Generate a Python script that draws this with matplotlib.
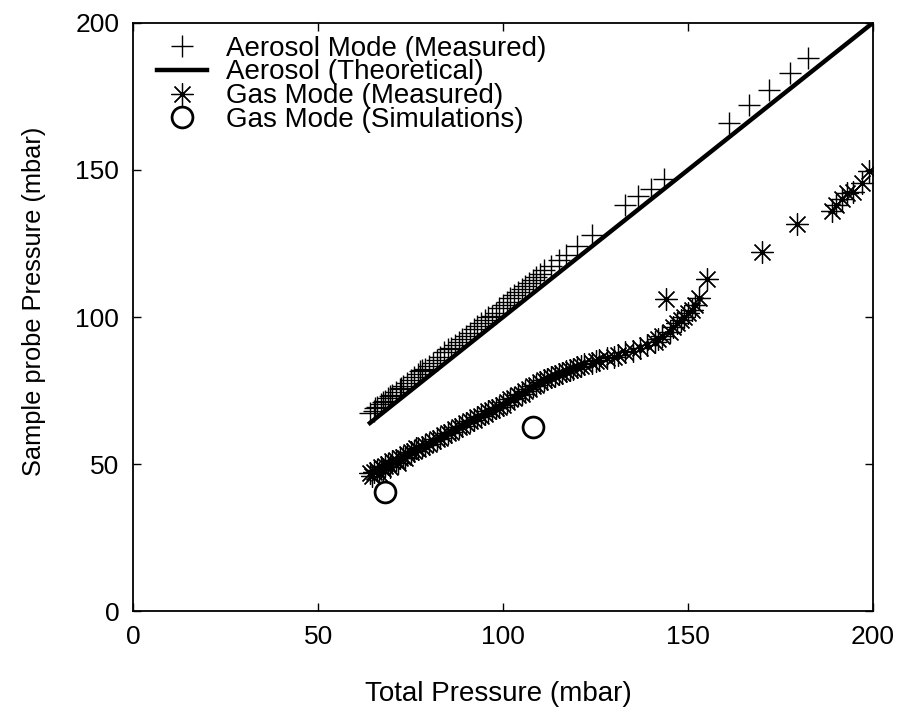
import matplotlib.pyplot as plt
import numpy as np

plt.rcParams['font.family'] = ['Liberation Sans', 'DejaVu Sans']

# Aerosol mode, measured (total pressure, sample probe pressure) in mbar
aerosol_x = [64, 65, 65.5, 66, 67, 67.5, 68, 69, 69.5, 70, 71, 72, 72.5, 73, 74, 75,
             76, 77, 77.5, 78, 79, 80, 81, 82, 83, 84, 85, 86, 87, 88, 89, 90, 91,
             92, 93, 94, 95, 96, 97, 98, 99, 100, 101, 102, 103, 104, 105, 106, 107,
             108, 109, 110, 111, 113, 115, 117, 120, 124, 133, 136.5, 140, 143.5,
             161, 166.5, 172, 177.5, 182.5]
aerosol_y = [67.5, 68, 69, 69.5, 70.5, 71, 71.5, 72.5, 73, 73.5, 74.5, 75.5, 76, 76.5,
             77.5, 78.5, 79.5, 80.5, 81.5, 82, 82.5, 83.5, 84.5, 85.5, 86.5, 88, 89,
             89.5, 90.5, 91.5, 92.5, 93.5, 94.5, 96, 97, 98, 99, 100, 100.5, 101.5,
             103, 104, 105, 106.5, 107.5, 108.5, 109.5, 110.5, 111.5, 112.5, 113.5,
             114.5, 116, 117.5, 119.5, 121, 124, 128, 138, 141, 143.5, 147,
             166, 172, 177, 183, 188]

# Aerosol theoretical: sample probe pressure equals total pressure
theory_x = [64, 200]
theory_y = [64, 200]

# Gas mode, measured
gas_x = [64, 64.5, 65, 66, 66.5, 67, 67.5, 68, 69, 69.5, 70, 71, 71.5, 72, 73, 73.5,
         74, 75, 76, 76.5, 77, 78, 79, 80, 81, 82, 83, 84, 85, 86, 87, 88, 89, 90,
         91, 92, 93, 94, 95, 96, 97, 98, 99, 100, 101, 102, 103, 104, 105, 106, 107,
         108, 109, 110, 111, 112, 113, 114, 115, 116, 117, 118, 119, 120, 121, 122,
         124, 125, 126, 128, 130, 131, 133, 135, 137, 139, 141, 142, 143, 144, 145,
         146, 147, 148, 149, 150, 151, 152, 153, 155, 170, 179.5, 189, 190, 191.5,
         193, 194.5, 197, 199]
gas_y = [47, 46, 47.5, 48, 47, 49, 48.5, 49.5, 50, 49, 51, 51.5, 50.5, 52, 52.5, 52,
         53.5, 54, 54.5, 55.5, 55, 56, 56.5, 57, 58, 58.5, 59, 60, 60.5, 61, 62,
         62.5, 63, 64, 64.5, 65, 66, 66.5, 67, 68, 68.5, 69, 69.5, 70, 71, 72, 72.5,
         73.5, 74, 75, 75.5, 76.5, 77, 78, 78.5, 79, 79.5, 80, 80.5, 81, 81.5, 82, 82.5,
         83, 83.5, 84, 84.5, 85, 85.5, 86, 86.5, 87, 88, 88.5, 89.5, 90.5, 91.5,
         92.5, 93.5, 106, 95, 96.5, 98, 99, 100, 101.5, 102.5, 104, 106.5, 113, 122,
         131.5, 136, 138, 140, 142, 142.5, 145.5, 149.5]

# Gas mode, simulations
sim_x = [68, 108]
sim_y = [40.5, 62.5]

fig = plt.figure(figsize=(9, 7.1), dpi=100)
ax = fig.add_axes([0.148, 0.139, 0.822, 0.829])

ax.plot(aerosol_x, aerosol_y, linestyle='none', marker='+', markersize=16,
        markeredgewidth=1.0, color='black', label='Aerosol Mode (Measured)')
ax.plot(theory_x, theory_y, color='black', linewidth=3.2, label='Aerosol (Theoretical)')
ax.plot(gas_x, gas_y, linestyle='none', marker=(8, 2, 0), markersize=16,
        markeredgewidth=0.9, color='black', label='Gas Mode (Measured)')
ax.plot(sim_x, sim_y, linestyle='none', marker='o', markersize=15,
        markerfacecolor='none', markeredgewidth=2.0, color='black',
        label='Gas Mode (Simulations)')

ax.set_xlim(0, 200)
ax.set_ylim(0, 200)
ax.set_xticks([0, 50, 100, 150, 200])
ax.set_yticks([0, 50, 100, 150, 200])
ax.tick_params(direction='in', top=True, right=True, length=6, width=1,
               labelsize=19, pad=10)
for s in ax.spines.values():
    s.set_linewidth(1.3)

ax.set_xlabel('Total Pressure (mbar)', fontsize=20)
ax.set_ylabel('Sample probe Pressure (mbar)', fontsize=18.3)
ax.xaxis.set_label_coords(0.493, -0.118)
ax.yaxis.set_label_coords(-0.118, 0.526)

ax.legend(loc='upper left', bbox_to_anchor=(0.032, 0.978), frameon=False,
          fontsize=20, labelspacing=-0.08, handlelength=1.8, handletextpad=0.7,
          borderpad=0, borderaxespad=0)

fig.savefig('out.png', dpi=100)
